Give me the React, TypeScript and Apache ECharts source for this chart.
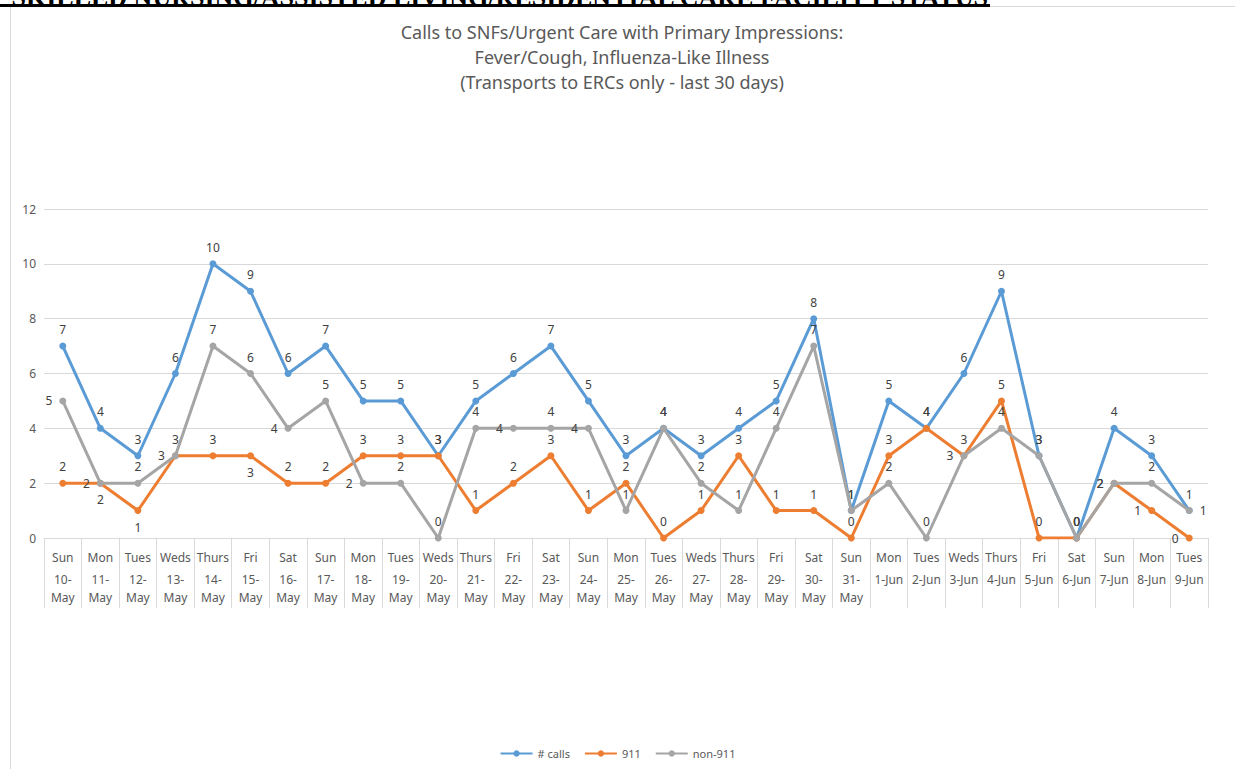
import React, { useEffect, useRef } from "react";
import * as echarts from "echarts";

const days = ["Sun","Mon","Tues","Weds","Thurs","Fri","Sat","Sun","Mon","Tues","Weds","Thurs","Fri","Sat","Sun","Mon","Tues","Weds","Thurs","Fri","Sat","Sun","Mon","Tues","Weds","Thurs","Fri","Sat","Sun","Mon","Tues"];
const dates = ["10-May","11-May","12-May","13-May","14-May","15-May","16-May","17-May","18-May","19-May","20-May","21-May","22-May","23-May","24-May","25-May","26-May","27-May","28-May","29-May","30-May","31-May","1-Jun","2-Jun","3-Jun","4-Jun","5-Jun","6-Jun","7-Jun","8-Jun","9-Jun"];
const calls = [7,4,3,6,10,9,6,7,5,5,3,5,6,7,5,3,4,3,4,5,8,1,5,4,6,9,3,0,4,3,1];
const calls911 = [2,2,1,3,3,3,2,2,3,3,3,1,2,3,1,2,0,1,3,1,1,0,3,4,3,5,0,0,2,1,0];
const non911 = [5,2,2,3,7,6,4,5,2,2,0,4,4,4,4,1,4,2,1,4,7,1,2,0,3,4,3,0,2,2,1];

// label placements (Excel-like smart placement)
const pos911 = ["top","left","bottom","top","top","bottom","top","top","top","top","top","top","top","top","top","top","top","top","top","top","top","top","top","top","top","top","top","top","left","left","left"];
const posNon = ["left","bottom","top","left","top","top","left","top","left","top","top","top","left","top","left","top","top","top","top","top","top","top","top","top","left","top","top","top","left","top","right"];

const FONT = "'Noto Sans', sans-serif";

export default function App() {
  const ref = useRef<HTMLDivElement>(null);
  useEffect(() => {
    if (!ref.current) return;
    const chart = echarts.init(ref.current, null, { renderer: "svg" });
    const cats = days.map((d, i) => d + "|" + dates[i]);
    const mk = (vals: number[], p?: string[]) =>
      vals.map((v, i) => ({ value: v, label: { position: p ? p[i] : "top" } }));
    const lbl = { show: true, fontSize: 12, color: "#404040", distance: 7, fontFamily: FONT };
    chart.setOption({
      animation: false,
      textStyle: { fontFamily: FONT },
      title: {
        text: "Calls to SNFs/Urgent Care with Primary Impressions:\nFever/Cough, Influenza-Like Illness\n(Transports to ERCs only - last 30 days)",
        left: 617,
        textAlign: "center",
        top: 14,
        textStyle: { fontSize: 18, lineHeight: 25, fontWeight: "normal", color: "#595959", fontFamily: FONT },
      },
      graphic: [
        {
          type: "text",
          x: 988,
          y: 10,
          style: {
            text: "SKILLED NURSING/ASSISTED LIVING/RESIDENTIAL CARE FACILITY STATUS",
            font: "bold 26px 'Liberation Serif', serif",
            fill: "#000",
            textAlign: "right",
            textVerticalAlign: "bottom",
          },
        },
        { type: "rect", shape: { x: 0, y: 4, width: 990, height: 3 }, style: { fill: "#000" } },
        { type: "line", shape: { x1: 990, y1: 6.5, x2: 1235, y2: 6.5 }, style: { stroke: "#d9d9d9", lineWidth: 1 } },
        { type: "line", shape: { x1: 10.5, y1: 7, x2: 10.5, y2: 769 }, style: { stroke: "#d9d9d9", lineWidth: 1 } },
      ],
      legend: {
        bottom: 5,
        left: "center",
        itemWidth: 32,
        itemHeight: 8,
        itemGap: 14,
        textStyle: { fontSize: 11, color: "#595959", fontFamily: FONT },
        data: ["# calls", "911", "non-911"],
      },
      grid: { left: 44, right: 27, top: 209, bottom: 231, containLabel: false },
      xAxis: {
        type: "category",
        data: cats,
        boundaryGap: true,
        axisLine: { lineStyle: { color: "#d9d9d9" } },
        axisTick: { show: true, interval: 0, length: 70, lineStyle: { color: "#d9d9d9" } },
        axisLabel: {
          interval: 0,
          margin: 6,
          color: "#595959",
          formatter: (v: string) => {
            const [d, dt] = v.split("|");
            const parts = dt.endsWith("May") ? [dt.replace("May", ""), "May"] : [dt];
            return "{a|" + d + "}\n" + parts.map((p) => "{b|" + p + "}").join("\n");
          },
          rich: {
            a: { fontSize: 12, lineHeight: 26, color: "#595959", fontFamily: FONT },
            b: { fontSize: 12, lineHeight: 18, color: "#595959", fontFamily: FONT },
          },
        },
      },
      yAxis: {
        type: "value",
        min: 0,
        max: 12,
        interval: 2,
        axisLine: { show: false },
        axisTick: { show: false },
        axisLabel: { fontSize: 12, color: "#595959", margin: 8 },
        splitLine: { lineStyle: { color: "#d9d9d9" } },
      },
      series: [
        {
          name: "# calls",
          type: "line",
          data: mk(calls),
          symbol: "circle",
          symbolSize: 7,
          itemStyle: { color: "#5B9BD5" },
          lineStyle: { width: 3, color: "#5B9BD5" },
          label: lbl,
          z: 3,
        },
        {
          name: "911",
          type: "line",
          data: mk(calls911, pos911),
          symbol: "circle",
          symbolSize: 7,
          itemStyle: { color: "#ED7D31" },
          lineStyle: { width: 3, color: "#ED7D31" },
          label: lbl,
          z: 4,
        },
        {
          name: "non-911",
          type: "line",
          data: mk(non911, posNon),
          symbol: "circle",
          symbolSize: 7,
          itemStyle: { color: "#A5A5A5" },
          lineStyle: { width: 3, color: "#A5A5A5" },
          label: lbl,
          z: 5,
        },
      ],
    });
    return () => chart.dispose();
  }, []);
  return (
    <div
      ref={ref}
      style={{ position: "absolute", left: 0, top: 0, width: 1235, height: 769, background: "#fff" }}
    />
  );
}
